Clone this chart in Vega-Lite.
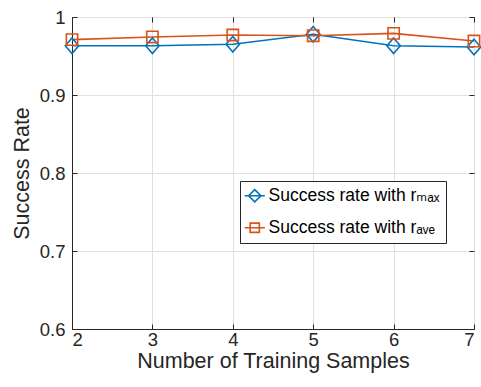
{
  "$schema": "https://vega.github.io/schema/vega-lite/v6.json",
  "width": 402,
  "height": 312,
  "autosize": {"type": "none"},
  "padding": {"left": 72, "top": 17, "right": 7, "bottom": 58},
  "background": "white",
  "config": {
    "view": {"stroke": "#262626", "strokeWidth": 1},
    "font": "Liberation Sans",
    "axis": {
      "labelFont": "Liberation Sans",
      "titleFont": "Liberation Sans",
      "labelColor": "#262626",
      "titleColor": "#262626",
      "titleFontWeight": "normal",
      "domainColor": "#262626",
      "tickColor": "#262626",
      "gridColor": "#dfdfdf",
      "gridOpacity": 1
    }
  },
  "data": {
    "values": [
      {"samples": 2, "rate": 0.9632, "series": "max"},
      {"samples": 3, "rate": 0.9632, "series": "max"},
      {"samples": 4, "rate": 0.965, "series": "max"},
      {"samples": 5, "rate": 0.9778, "series": "max"},
      {"samples": 6, "rate": 0.9632, "series": "max"},
      {"samples": 7, "rate": 0.9615, "series": "max"},
      {"samples": 2, "rate": 0.971, "series": "ave"},
      {"samples": 3, "rate": 0.9744, "series": "ave"},
      {"samples": 4, "rate": 0.9769, "series": "ave"},
      {"samples": 5, "rate": 0.976, "series": "ave"},
      {"samples": 6, "rate": 0.979, "series": "ave"},
      {"samples": 7, "rate": 0.9692, "series": "ave"}
    ]
  },
  "encoding": {
    "x": {
      "field": "samples",
      "type": "quantitative",
      "scale": {"domain": [2, 7], "nice": false, "zero": false}
    },
    "y": {
      "field": "rate",
      "type": "quantitative",
      "scale": {"domain": [0.6, 1], "nice": false, "zero": false}
    },
    "color": {
      "field": "series",
      "type": "nominal",
      "scale": {"domain": ["max", "ave"], "range": ["#0072BD", "#D95319"]},
      "legend": {
        "title": null,
        "orient": "none",
        "legendX": 168,
        "legendY": 164,
        "direction": "vertical",
        "fillColor": "white",
        "strokeColor": "#262626",
        "padding": 6,
        "rowPadding": 12,
        "symbolSize": 150,
        "symbolStrokeWidth": 1.6,
        "symbolFillColor": "transparent",
        "labelFont": "Liberation Sans, DejaVu Sans",
        "labelFontSize": 17.5,
        "labelColor": "#000000",
        "labelOffset": 5,
        "labelLimit": 300,
        "labelExpr": "datum.value == 'max' ? 'Success rate with rₘₐₓ' : 'Success rate with rₐᵥₑ'",
        "encoding": {
          "symbols": {
            "shape": {
              "condition": {"test": "datum.value == 'max'", "value": "M-1.65,0H1.65M0,-1L1,0L0,1L-1,0Z"},
              "value": "M-1.65,0H1.65M-0.75,-0.75H0.75V0.75H-0.75Z"
            },
            "fill": {"value": "transparent"}
          }
        }
      }
    }
  },
  "layer": [
    {
      "mark": {"type": "line", "strokeWidth": 1.6},
      "encoding": {
        "x": {
          "field": "samples",
          "type": "quantitative",
          "axis": {
            "orient": "bottom",
            "values": [2, 3, 4, 5, 6, 7],
            "title": "Number of Training Samples",
            "labelFontSize": 18.5,
            "titleFontSize": 21.5,
            "tickSize": -5,
            "labelPadding": 6,
            "titlePadding": 2,
            "grid": true
          }
        },
        "y": {
          "field": "rate",
          "type": "quantitative",
          "axis": {
            "orient": "left",
            "values": [0.6, 0.7, 0.8, 0.9, 1],
            "format": ".1~f",
            "title": "Success Rate",
            "labelFontSize": 18.5,
            "titleFontSize": 21.5,
            "tickSize": -5,
            "labelPadding": 12,
            "titlePadding": 6,
            "grid": true
          }
        }
      }
    },
    {
      "mark": {"type": "point", "filled": false, "strokeWidth": 1.6, "opacity": 1},
      "encoding": {
        "x": {
          "field": "samples",
          "type": "quantitative",
          "axis": {
            "orient": "top",
            "values": [2, 3, 4, 5, 6, 7],
            "labels": false,
            "title": null,
            "domain": false,
            "grid": false,
            "tickSize": -5
          }
        },
        "y": {
          "field": "rate",
          "type": "quantitative",
          "axis": {
            "orient": "right",
            "values": [0.6, 0.7, 0.8, 0.9, 1],
            "labels": false,
            "title": null,
            "domain": false,
            "grid": false,
            "tickSize": -5
          }
        },
        "shape": {
          "condition": {"test": "datum.series == 'max'", "value": "M0,-1.1L0.95,0L0,1.1L-0.95,0Z"},
          "value": "M-0.8,-0.8H0.8V0.8H-0.8Z"
        },
        "size": {"value": 200}
      }
    }
  ],
  "resolve": {"axis": {"x": "independent", "y": "independent"}}
}
